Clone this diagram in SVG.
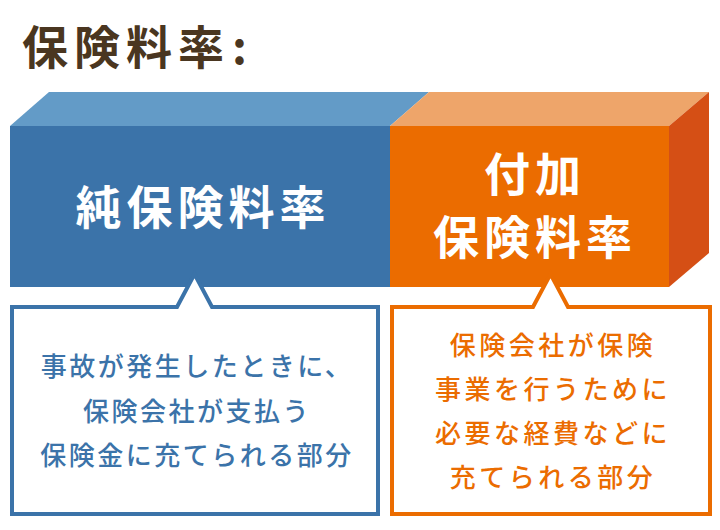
<svg xmlns="http://www.w3.org/2000/svg" width="720" height="530" viewBox="0 0 720 530">
<style>
.jp{font-family:"Noto Sans CJK JP","Noto Sans CJK SC",sans-serif}
.title{font-size:46px;font-weight:bold;fill:#4a3620;letter-spacing:6px}
.big{font-size:46px;font-weight:bold;fill:#ffffff;letter-spacing:5px;text-anchor:middle}
.note{font-size:26px;font-weight:500;letter-spacing:2.5px;text-anchor:middle}
.blue{fill:#3b73a9}
.orange{fill:#eb6c00;letter-spacing:3.5px}
</style>
<rect width="720" height="530" fill="#ffffff"/>
<g id="title">
<text class="jp title" x="22" y="64">保険料率</text>
<text class="jp title" x="232" y="64">:</text>
</g>
<g id="pure-rate">
<polygon points="10,126 49,92 429,92 390,126" fill="#639bc7"/>
<rect x="10" y="126" width="380" height="161" fill="#3b73a9"/>
<text class="jp big" x="203" y="224">純保険料率</text>
</g>
<g id="loading-rate">
<polygon points="390,126 429,92 709,92 669,126" fill="#eea56a"/>
<rect x="390" y="126" width="279" height="161" fill="#eb6c00"/>
<polygon points="669,126 709,92 709,253 669,287" fill="#d54f15"/>
<text class="jp big" x="535" y="191">付加</text>
<text class="jp big" x="535" y="254">保険料率</text>
</g>
<g id="connectors">
<path d="M12,307 H177 L194.5,274 L212,307 H378 V514 H12 Z" fill="#ffffff" stroke="#3b73a9" stroke-width="4"/>
<path d="M392,307 H533 L550.5,274 L568,307 H710 V514 H392 Z" fill="#ffffff" stroke="#eb6c00" stroke-width="4"/>
</g>
<g id="pure-note">
<text class="jp note blue" x="197" y="376">事故が発生したときに、</text>
<text class="jp note blue" x="197" y="421">保険会社が支払う</text>
<text class="jp note blue" x="197" y="465">保険金に充てられる部分</text>
</g>
<g id="loading-note">
<text class="jp note orange" x="553" y="355">保険会社が保険</text>
<text class="jp note orange" x="553" y="399">事業を行うために</text>
<text class="jp note orange" x="553" y="443">必要な経費などに</text>
<text class="jp note orange" x="553" y="487">充てられる部分</text>
</g>
</svg>
